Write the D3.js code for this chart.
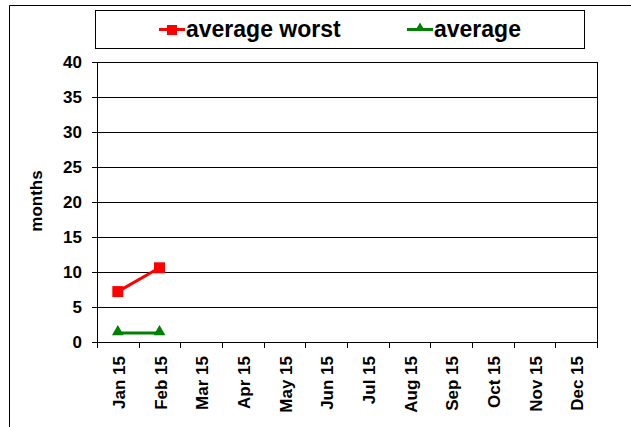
<!DOCTYPE html>
<html>
<head>
<meta charset="utf-8">
<script src="https://cdn.jsdelivr.net/npm/d3@7"></script>
<style>
  body { margin: 0; background: #fff; }
  svg text { font-family: Arial, "Liberation Sans", sans-serif; font-weight: bold; }
</style>
</head>
<body>
<div id="chart"></div>
<script>
// chart data
var months      = ['Jan 15', 'Feb 15', 'Mar 15', 'Apr 15', 'May 15', 'Jun 15',
                   'Jul 15', 'Aug 15', 'Sep 15', 'Oct 15', 'Nov 15', 'Dec 15'];
var worstValues = [7.2, 10.6];
var avgValues   = [1.3, 1.3];
var yTicks      = [0, 5, 10, 15, 20, 25, 30, 35, 40];

var W = 631, H = 427;
var margin = { top: 62, right: 34, bottom: 85, left: 97 };
var width  = W - margin.left - margin.right;
var height = H - margin.top - margin.bottom;

var svg = d3.select('#chart')
            .append('svg')
            .attr('width', W)
            .attr('height', H);

// outer chart frame (only top and left edges visible)
svg.append('path')
   .attr('d', 'M9.5,' + H + ' V5.5 H' + W)
   .attr('fill', 'none')
   .attr('stroke', '#000')
   .attr('stroke-width', 1);

var g = svg.append('g')
           .attr('transform', 'translate(' + margin.left + ',' + margin.top + ')');

var xScale = d3.scaleBand()
               .domain(months)
               .range([0, width]);

var yScale = d3.scaleLinear()
               .domain([0, 40])
               .range([height, 0]);

// horizontal grid lines
g.append('g')
 .selectAll('line')
 .data(yTicks)
 .join('line')
 .attr('x1', 0)
 .attr('x2', width)
 .attr('y1', function (d) { return Math.round(yScale(d)) + 0.5; })
 .attr('y2', function (d) { return Math.round(yScale(d)) + 0.5; })
 .attr('stroke', '#000')
 .attr('stroke-width', 1);

// right border of plot area
g.append('line')
 .attr('x1', width + 0.5).attr('x2', width + 0.5)
 .attr('y1', 0).attr('y2', height)
 .attr('stroke', '#000');

// y axis
var yAxis = d3.axisLeft(yScale)
              .tickValues(yTicks)
              .tickSize(5)
              .tickPadding(10);

var yG = g.append('g').call(yAxis);
yG.select('.domain').attr('stroke', '#000');
yG.selectAll('text').attr('font-size', 17).attr('fill', '#000');

// x axis: ticks between categories
var xG = g.append('g')
          .attr('transform', 'translate(0,' + height + ')');

xG.append('line')
  .attr('x1', 0).attr('x2', width)
  .attr('y1', 0.5).attr('y2', 0.5)
  .attr('stroke', '#000');

var bounds = months.map(function (m) { return xScale(m); }).concat([width]);
xG.selectAll('.tick')
  .data(bounds)
  .join('line')
  .attr('class', 'tick')
  .attr('x1', function (d) { return Math.round(d) + 0.5; })
  .attr('x2', function (d) { return Math.round(d) + 0.5; })
  .attr('y1', 0).attr('y2', 6)
  .attr('stroke', '#000');

xG.selectAll('.lbl')
  .data(months)
  .join('text')
  .attr('class', 'lbl')
  .attr('transform', function (d) {
      return 'translate(' + (xScale(d) + xScale.bandwidth() / 2 + 7) + ',14) rotate(-90)';
  })
  .attr('text-anchor', 'end')
  .attr('font-size', 17)
  .attr('fill', '#000')
  .text(function (d) { return d; });

// y axis title
svg.append('text')
   .attr('transform', 'translate(42,' + (margin.top + height / 2 - 1) + ') rotate(-90)')
   .attr('text-anchor', 'middle')
   .attr('font-size', 17)
   .attr('fill', '#000')
   .text('months');

// lines
var line = d3.line()
             .x(function (d, i) { return xScale(months[i]) + xScale.bandwidth() / 2; })
             .y(function (d)    { return yScale(d); });

g.append('path')
 .datum(worstValues)
 .attr('d', line)
 .attr('fill', 'none')
 .attr('stroke', '#ff0000')
 .attr('stroke-width', 3);

g.append('path')
 .datum(avgValues)
 .attr('d', line)
 .attr('fill', 'none')
 .attr('stroke', '#008000')
 .attr('stroke-width', 3);

g.selectAll('.sq')
 .data(worstValues)
 .join('rect')
 .attr('class', 'sq')
 .attr('x', function (d, i) { return xScale(months[i]) + xScale.bandwidth() / 2 - 5.5; })
 .attr('y', function (d)    { return yScale(d) - 5.5; })
 .attr('width', 11).attr('height', 11)
 .attr('fill', '#ff0000');

var tri = d3.symbol().type(d3.symbolTriangle).size(60);
g.selectAll('.tri')
 .data(avgValues)
 .join('path')
 .attr('class', 'tri')
 .attr('d', tri)
 .attr('transform', function (d, i) {
     return 'translate(' + (xScale(months[i]) + xScale.bandwidth() / 2) + ',' + (yScale(d) - 1) + ')';
 })
 .attr('fill', '#008000');

// legend
var legend = svg.append('g');
legend.append('rect')
      .attr('x', 95.5).attr('y', 10.5)
      .attr('width', 489).attr('height', 38)
      .attr('fill', '#fff')
      .attr('stroke', '#000');

var legendItems = [
    { name: 'average worst', color: '#ff0000', x: 159, shape: 'square' },
    { name: 'average',       color: '#008000', x: 407, shape: 'triangle' }
];

legendItems.forEach(function (it) {
    legend.append('line')
          .attr('x1', it.x).attr('x2', it.x + 26)
          .attr('y1', 29.5).attr('y2', 29.5)
          .attr('stroke', it.color)
          .attr('stroke-width', 3);
    if (it.shape === 'square')
        legend.append('rect')
              .attr('x', it.x + 8).attr('y', 25)
              .attr('width', 10).attr('height', 10)
              .attr('fill', it.color);
    else
        legend.append('path')
              .attr('d', d3.symbol().type(d3.symbolTriangle).size(40))
              .attr('transform', 'translate(' + (it.x + 13) + ',28)')
              .attr('fill', it.color);
    legend.append('text')
          .attr('x', it.x + 27)
          .attr('y', 37)
          .attr('font-size', 23)
          .attr('fill', '#000')
          .text(it.name);
});
</script>
</body>
</html>
